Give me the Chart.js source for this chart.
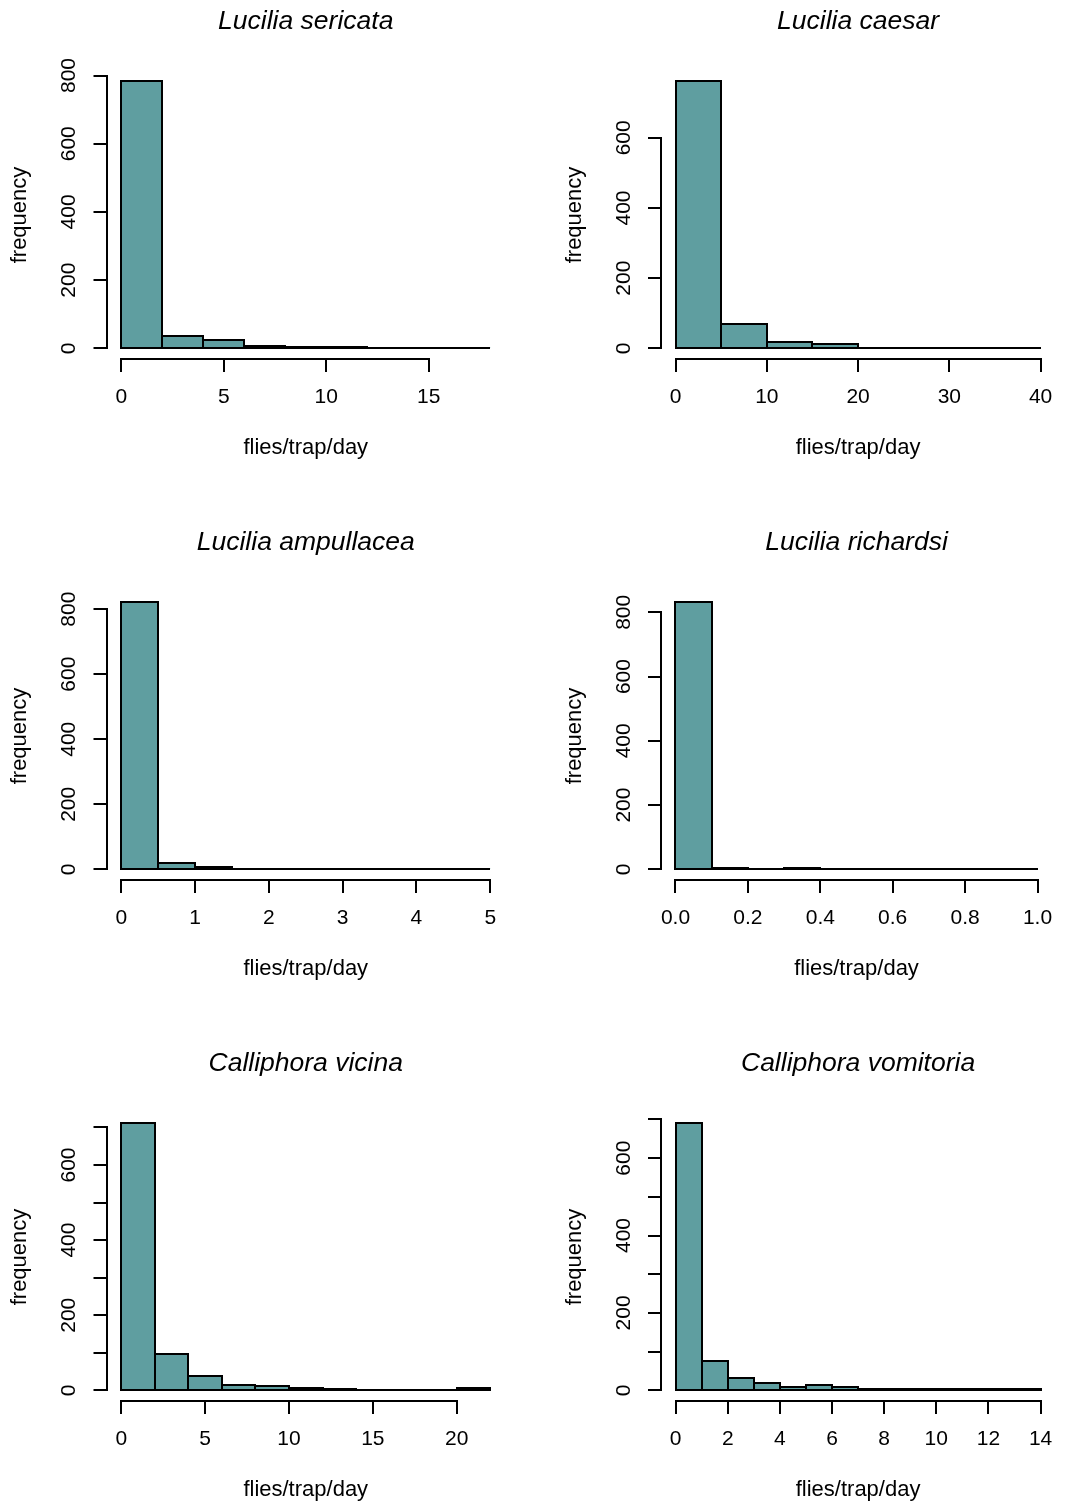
<!DOCTYPE html>
<html>
<head>
<meta charset="utf-8">
<script src="https://cdn.jsdelivr.net/npm/chart.js@4.4.1/dist/chart.umd.min.js"></script>
<style>
html, body { margin: 0; padding: 0; background: #fff; width: 1065px; height: 1503px; overflow: hidden; }
canvas { position: absolute; display: block; }
</style>
</head>
<body>
<canvas id="p1"></canvas>
<canvas id="p2"></canvas>
<canvas id="p3"></canvas>
<canvas id="p4"></canvas>
<canvas id="p5"></canvas>
<canvas id="p6"></canvas>
<script>
// ---------- data ----------
const sericataBreaks = [0, 2, 4, 6, 8, 10, 12, 14, 16, 18];
const sericataCounts = [782, 34, 24, 5, 4, 4, 0, 0, 1];
const sericataXTicks = [0, 5, 10, 15];
const sericataYTicks = [0, 200, 400, 600, 800];

const caesarBreaks = [0, 5, 10, 15, 20, 25, 30, 35, 40];
const caesarCounts = [760, 68, 16, 10, 0, 0, 0, 1];
const caesarXTicks = [0, 10, 20, 30, 40];
const caesarYTicks = [0, 200, 400, 600];

const ampullaceaBreaks = [0, 0.5, 1, 1.5, 2, 2.5, 3, 3.5, 4, 4.5, 5];
const ampullaceaCounts = [820, 17, 6, 0, 0, 0, 0, 0, 0, 1];
const ampullaceaXTicks = [0, 1, 2, 3, 4, 5];
const ampullaceaYTicks = [0, 200, 400, 600, 800];

const richardsiBreaks = [0, 0.1, 0.2, 0.3, 0.4, 0.5, 0.6, 0.7, 0.8, 0.9, 1.0];
const richardsiCounts = [830, 3, 0, 4, 0, 0, 0, 0, 0, 1];
const richardsiXTicks = [0, 0.2, 0.4, 0.6, 0.8, 1.0];
const richardsiXLabels = ['0.0', '0.2', '0.4', '0.6', '0.8', '1.0'];
const richardsiYTicks = [0, 200, 400, 600, 800];

const vicinaBreaks = [0, 2, 4, 6, 8, 10, 12, 14, 16, 18, 20, 22];
const vicinaCounts = [710, 95, 38, 12, 11, 4, 3, 0, 0, 0, 5];
const vicinaXTicks = [0, 5, 10, 15, 20];
const vicinaYTicks = [0, 100, 200, 300, 400, 500, 600, 700];
const vicinaYLabels = [0, 200, 400, 600];

const vomitoriaBreaks = [0, 1, 2, 3, 4, 5, 6, 7, 8, 9, 10, 11, 12, 13, 14];
const vomitoriaCounts = [689, 75, 30, 19, 9, 14, 9, 3, 2, 2, 2, 2, 2, 2];
const vomitoriaXTicks = [0, 2, 4, 6, 8, 10, 12, 14];
const vomitoriaYTicks = [0, 100, 200, 300, 400, 500, 600, 700];
const vomitoriaYLabels = [0, 200, 400, 600];

const xTitle = 'flies/trap/day';
const yTitle = 'frequency';

// ---------- layout / style ----------
const FONT = "'Liberation Sans', Arial, Helvetica, sans-serif";
Chart.defaults.font.family = FONT;
Chart.defaults.color = '#000';
const BAR_FILL = '#5F9EA0';
const INK = '#000';
const AXIS_LW = 2;
const BAR_LW = 2;
const TICK_LEN = 13;
const TICK_SIZE = 21;
const LABEL_SIZE = 22;
const TITLE_SIZE = 26.5;
const TITLE_H = 72, PLOT_H = 288, XAXIS_H = 110;

const cols = [
  { left: 0,   width: 545, axisW: 106.5, padR: 40 },
  { left: 555, width: 510, axisW: 106,   padR: 5 }
];
const rowTops = [-1, 520, 1041];

const panels = [
  { id: 'p1', title: 'Lucilia sericata',   breaks: sericataBreaks,   counts: sericataCounts,   xTicks: sericataXTicks,   yTicks: sericataYTicks,   col: 0, row: 0 },
  { id: 'p2', title: 'Lucilia caesar',     breaks: caesarBreaks,     counts: caesarCounts,     xTicks: caesarXTicks,     yTicks: caesarYTicks,     col: 1, row: 0 },
  { id: 'p3', title: 'Lucilia ampullacea', breaks: ampullaceaBreaks, counts: ampullaceaCounts, xTicks: ampullaceaXTicks, yTicks: ampullaceaYTicks, col: 0, row: 1 },
  { id: 'p4', title: 'Lucilia richardsi',  breaks: richardsiBreaks,  counts: richardsiCounts,  xTicks: richardsiXTicks,  yTicks: richardsiYTicks,  xLabels: richardsiXLabels, col: 1, row: 1 },
  { id: 'p5', title: 'Calliphora vicina',  breaks: vicinaBreaks,     counts: vicinaCounts,     xTicks: vicinaXTicks,     yTicks: vicinaYTicks,     yLabels: vicinaYLabels, col: 0, row: 2 },
  { id: 'p6', title: 'Calliphora vomitoria', breaks: vomitoriaBreaks, counts: vomitoriaCounts, xTicks: vomitoriaXTicks,  yTicks: vomitoriaYTicks,  yLabels: vomitoriaYLabels, col: 1, row: 2 }
];

const al = (p) => Math.round(p - AXIS_LW / 2) + AXIS_LW / 2;

// R-style: bar outlines stroked on the edges (like rect()), axes only from first to last tick
const rAxes = {
  id: 'rAxes',
  afterDatasetsDraw(chart) {
    const { ctx } = chart;
    const meta = chart.getDatasetMeta(0);
    const zeroPx = chart.scales.y.getPixelForValue(0);
    const b = Math.round(zeroPx);
    ctx.save();
    ctx.strokeStyle = INK;
    ctx.lineWidth = BAR_LW;
    ctx.lineJoin = 'miter';
    meta.data.forEach(bar => {
      const { x, y, width } = bar.getProps(['x', 'y', 'width'], true);
      const l = Math.round(x - width / 2), r = Math.round(x + width / 2);
      const h = Math.round(zeroPx - y);
      ctx.beginPath();
      if (h < 1) {
        ctx.moveTo(l, b);
        ctx.lineTo(r, b);
      } else {
        ctx.rect(l, b - h, r - l, h);
      }
      ctx.stroke();
    });
    ctx.restore();
  },
  afterDraw(chart) {
    const { ctx, chartArea, scales: { x, y } } = chart;
    ctx.save();
    ctx.strokeStyle = INK;
    ctx.lineWidth = AXIS_LW;
    ctx.lineCap = 'square';
    const xt = x.ticks, yt = y.ticks;
    const by = al(chartArea.bottom);
    const lx = al(chartArea.left);
    ctx.beginPath();
    ctx.moveTo(al(x.getPixelForValue(xt[0].value)), by);
    ctx.lineTo(al(x.getPixelForValue(xt[xt.length - 1].value)), by);
    ctx.moveTo(lx, al(y.getPixelForValue(yt[0].value)));
    ctx.lineTo(lx, al(y.getPixelForValue(yt[yt.length - 1].value)));
    ctx.stroke();
    ctx.restore();
  }
};

panels.forEach(p => {
  const c = cols[p.col];
  const canvas = document.getElementById(p.id);
  canvas.width = c.width;
  canvas.height = TITLE_H + PLOT_H + XAXIS_H;
  canvas.style.left = c.left + 'px';
  canvas.style.top = rowTops[p.row] + 'px';

  const lo = p.breaks[0], hi = p.breaks[p.breaks.length - 1];
  const xPad = 0.04 * (hi - lo);
  const M = Math.max(...p.counts);
  const data = p.counts.map((v, i) => ({ x: (p.breaks[i] + p.breaks[i + 1]) / 2, y: v }));

  new Chart(canvas, {
    type: 'bar',
    data: {
      datasets: [{
        data,
        backgroundColor: BAR_FILL,
        borderWidth: 0,
        barPercentage: 1,
        categoryPercentage: 1,
        inflateAmount: 0
      }]
    },
    options: {
      responsive: false,
      animation: false,
      devicePixelRatio: 1,
      events: [],
      layout: { padding: { left: 0, right: c.padR, top: 0, bottom: 0 } },
      plugins: {
        legend: { display: false },
        tooltip: { enabled: false },
        title: {
          display: true,
          text: p.title,
          fullSize: false,
          color: INK,
          font: { size: TITLE_SIZE, style: 'italic', weight: 'normal', family: FONT },
          padding: { top: 7, bottom: TITLE_H - 7 - TITLE_SIZE * 1.2 }
        }
      },
      scales: {
        x: {
          type: 'linear',
          bounds: 'data',
          offset: false,
          min: lo - xPad,
          max: hi + xPad,
          afterBuildTicks: s => { s.ticks = p.xTicks.map(v => ({ value: v })); },
          afterFit: s => { s.height = XAXIS_H; },
          grid: { display: true, offset: false, drawOnChartArea: false, drawTicks: true, tickLength: TICK_LEN, color: INK, lineWidth: AXIS_LW },
          border: { display: false },
          ticks: {
            autoSkip: false, maxRotation: 0, minRotation: 0, padding: 12.4, color: INK,
            font: { size: TICK_SIZE },
            callback: (v, i) => p.xLabels ? p.xLabels[i] : String(v)
          },
          title: { display: true, text: xTitle, color: INK, font: { size: LABEL_SIZE }, padding: { top: 0, bottom: 7.8 } }
        },
        y: {
          type: 'linear',
          bounds: 'data',
          min: -0.04 * M,
          max: 1.04 * M,
          afterBuildTicks: s => { s.ticks = p.yTicks.map(v => ({ value: v })); },
          afterFit: s => { s.width = c.axisW; },
          grid: { display: true, drawOnChartArea: false, drawTicks: true, tickLength: TICK_LEN, color: INK, lineWidth: AXIS_LW },
          border: { display: false },
          ticks: {
            autoSkip: false, minRotation: 90, maxRotation: 90, crossAlign: 'center', padding: 6.5, color: INK,
            font: { size: TICK_SIZE },
            callback: (v) => (!p.yLabels || p.yLabels.includes(v)) ? String(v) : ''
          },
          title: { display: true, text: yTitle, color: INK, font: { size: LABEL_SIZE }, padding: { top: 6.8, bottom: 0 } }
        }
      }
    },
    plugins: [rAxes]
  });
});
</script>
</body>
</html>
